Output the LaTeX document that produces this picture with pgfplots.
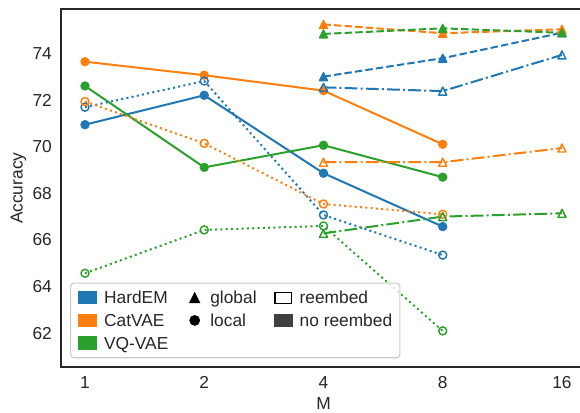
\documentclass[border=0pt]{standalone}
\usepackage{fontspec}
\setmainfont{Liberation Sans}
\usepackage{pgfplots}
\pgfplotsset{compat=1.18}
\definecolor{tabblue}{HTML}{1F77B4}
\definecolor{taborange}{HTML}{FF7F0E}
\definecolor{tabgreen}{HTML}{2CA02C}
\definecolor{axgray}{HTML}{262626}
\definecolor{leggray}{HTML}{CCCCCC}
\definecolor{noreemb}{HTML}{404040}
\pgfdeclareplotmark{mtri*}{%
  \pgfpathmoveto{\pgfqpoint{0pt}{\pgfplotmarksize}}%
  \pgfpathlineto{\pgfqpoint{-\pgfplotmarksize}{-\pgfplotmarksize}}%
  \pgfpathlineto{\pgfqpoint{\pgfplotmarksize}{-\pgfplotmarksize}}%
  \pgfpathclose\pgfusepathqfillstroke}
\pgfdeclareplotmark{mtri}{%
  \pgfpathmoveto{\pgfqpoint{0pt}{\pgfplotmarksize}}%
  \pgfpathlineto{\pgfqpoint{-\pgfplotmarksize}{-\pgfplotmarksize}}%
  \pgfpathlineto{\pgfqpoint{\pgfplotmarksize}{-\pgfplotmarksize}}%
  \pgfpathclose\pgfusepathqstroke}
\pgfplotsset{
  locn/.style={forget plot, line width=1.5pt, line join=round, mark=*, mark size=3pt, mark options={solid, line width=1pt}},
  locr/.style={forget plot, line width=1.5pt, line join=round, dash pattern=on 1.5pt off 2.475pt, mark=o, mark size=3pt, mark options={solid, line width=1.1pt}},
  glon/.style={forget plot, line width=1.5pt, line join=round, dash pattern=on 5.55pt off 2.4pt, mark=mtri*, mark size=3pt, mark options={solid, line width=1pt}},
  glor/.style={forget plot, line width=1.5pt, line join=round, dash pattern=on 9.6pt off 2.4pt on 1.5pt off 2.4pt, mark=mtri, mark size=3pt, mark options={solid, line width=1.1pt}},
}
\newcommand{\lf}{\fontsize{13}{15.6}\selectfont}
\begin{document}
\begin{tikzpicture}
\begin{axis}[
  scale only axis, width=393.5pt, height=268.5pt,
  xmin=-0.2, xmax=4.2, ymin=60.54, ymax=75.886,
  xtick={0,1,2,3,4}, xticklabels={1,2,4,8,16},
  ytick={62,64,66,68,70,72,74},
  major tick length=0pt,
  /pgf/number format/assume math mode=true,
  tick label style={font=\lf, text=axgray},
  xticklabel style={anchor=north, inner sep=0pt, yshift=-6.75pt},
  yticklabel style={anchor=east, inner sep=0pt, xshift=-6.75pt},
  axis line style={axgray, line width=1.4pt},
  xlabel={M}, ylabel={Accuracy},
  label style={font=\lf, text=axgray},
  xlabel style={at={(axis description cs:0.5,-0.1)}, anchor=center},
  ylabel style={at={(axis description cs:-0.0815,0.5)}, anchor=center},
  legend columns=3,
  legend cell align=left,
  legend style={at={(0.01714,0.02514)}, anchor=south west, draw=leggray, line width=0.8pt,
    rounded corners=2.5pt, fill=white, fill opacity=0.8, draw opacity=1, text opacity=1,
    inner xsep=5.8pt, inner ysep=6pt, row sep=7pt, font=\lf, text=axgray,
    nodes={inner xsep=0pt, inner ysep=0pt, text height=9.3pt, text depth=0pt},
    /tikz/every odd column/.append style={column sep=5pt},
    /tikz/every even column/.append style={column sep=13pt}},
]
% legend entries (row-wise)
\addlegendimage{legend image code/.code={\fill[tabblue, fill opacity=1, sharp corners] (0pt,-4.6pt) rectangle (13.5pt,4.6pt);}}
\addlegendentry{HardEM}
\addlegendimage{legend image code/.code={\path[draw=none, fill=none] (0pt,-4.6pt) rectangle (13.5pt,4.6pt); \draw[black, fill=black, fill opacity=1, sharp corners, line width=0.6pt, mark size=3.8pt] plot[only marks, mark=mtri*] coordinates {(6.75pt,0pt)};}}
\addlegendentry{global}
\addlegendimage{legend image code/.code={\draw[black, fill=white, fill opacity=1, sharp corners, line width=0.8pt] (0.4pt,-4.2pt) rectangle (13.1pt,4.2pt);}}
\addlegendentry{reembed}
\addlegendimage{legend image code/.code={\fill[taborange, fill opacity=1, sharp corners] (0pt,-4.6pt) rectangle (13.5pt,4.6pt);}}
\addlegendentry{CatVAE}
\addlegendimage{legend image code/.code={\path[draw=none, fill=none] (0pt,-4.6pt) rectangle (13.5pt,4.6pt); \draw[black, fill=black, fill opacity=1, sharp corners, line width=0.6pt, mark size=3.7pt] plot[only marks, mark=*] coordinates {(6.75pt,0pt)};}}
\addlegendentry{local}
\addlegendimage{legend image code/.code={\fill[noreemb, fill opacity=1, sharp corners] (0pt,-4.6pt) rectangle (13.5pt,4.6pt);}}
\addlegendentry{no reembed}
\addlegendimage{legend image code/.code={\fill[tabgreen, fill opacity=1, sharp corners] (0pt,-4.6pt) rectangle (13.5pt,4.6pt);}}
\addlegendentry{VQ-VAE}
\addlegendimage{empty legend}
\addlegendentry{}
\addlegendimage{empty legend}
\addlegendentry{}
% local, no reembed
\addplot[locn, tabblue] coordinates {(0,70.94) (1,72.20) (2,68.86) (3,66.57)};
\addplot[locn, taborange] coordinates {(0,73.64) (1,73.06) (2,72.40) (3,70.10)};
\addplot[locn, tabgreen] coordinates {(0,72.60) (1,69.11) (2,70.06) (3,68.69)};
% local, reembed
\addplot[locr, tabblue] coordinates {(0,71.69) (1,72.81) (2,67.07) (3,65.35)};
\addplot[locr, taborange] coordinates {(0,71.93) (1,70.14) (2,67.54) (3,67.10)};
\addplot[locr, tabgreen] coordinates {(0,64.57) (1,66.43) (2,66.60) (3,62.10)};
% global, no reembed
\addplot[glon, tabblue] coordinates {(2,73.00) (3,73.79) (4,74.88)};
\addplot[glon, taborange] coordinates {(2,75.24) (3,74.86) (4,75.03)};
\addplot[glon, tabgreen] coordinates {(2,74.83) (3,75.07) (4,74.88)};
% global, reembed
\addplot[glor, tabblue] coordinates {(2,72.54) (3,72.38) (4,73.93)};
\addplot[glor, taborange] coordinates {(2,69.33) (3,69.33) (4,69.94)};
\addplot[glor, tabgreen] coordinates {(2,66.28) (3,67.00) (4,67.14)};
\end{axis}
\pgfresetboundingbox
\path[use as bounding box] (-45.86pt,-33.53pt) rectangle (389.14pt,275.47pt);
\end{tikzpicture}
\end{document}
